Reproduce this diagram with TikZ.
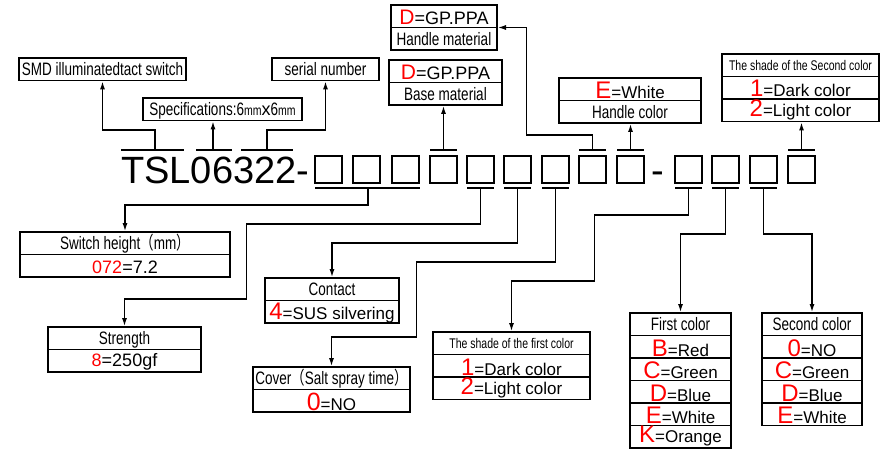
\documentclass[tikz,border=0pt]{standalone}
\usepackage{fontspec}
\setmainfont{Liberation Sans}
\newfontfamily\narrowfont[FakeStretch=0.75]{Liberation Sans}
\newfontfamily\cjkfont[FakeStretch=0.75]{Noto Sans CJK SC}
\usepackage{tikz}
\usetikzlibrary{positioning,arrows.meta}
\usepackage{xcolor}
\definecolor{red}{HTML}{FF0000}
\newcommand{\keyred}[2][24]{{\fontsize{#1}{#1}\selectfont\color{red}#2}}
\newcommand{\mmunit}{{\fontsize{14}{14}\selectfont mm}}

\begin{document}
\begin{tikzpicture}[x=1pt,y=-1pt,
  row/.style={draw, line width=1.9pt, outer sep=0pt, inner xsep=0pt, inner ysep=0pt, minimum height=22.5pt},
  head/.style={row, font=\narrowfont\fontsize{18}{18}\selectfont, text height=13pt, text depth=0pt},
  smallhead/.style={row, font=\narrowfont\fontsize{14}{14}\selectfont, text height=10pt, text depth=0pt},
  val/.style={row, font=\fontsize{17}{17}\selectfont, text height=20.5pt, text depth=2pt},
  raised/.style 2 args={text height=#1, text depth=#2},
  boxw/.style={minimum width=#1},
  sq/.style={draw, line width=1.9pt, minimum size=27pt, inner sep=0pt, outer sep=0pt},
  bar/.style={line width=1.9pt},
  link/.style={line width=1.9pt, -{Latex[length=9pt,width=5pt]}}]
  \useasboundingbox (0,0) rectangle (888,449);
  % part number with its code squares
  \node[anchor=base west, inner sep=0pt, font=\fontsize{38}{38}\selectfont] (pn) at (121,183) {TSL06322-};
  \foreach \x [count=\i] in {315,353,392,430,467,504,542,579,617,675,712,750,788}
    \node[sq] (s\i) at (\x+13.5,169.5) {};
  \node[anchor=base, inner sep=0pt, font=\fontsize{38}{38}\selectfont] (dash) at (658,183) {-};
  % bars over and under the code
  \foreach \a/\b in {121/184,196/232,241/293,430/457,579/606,617/644,788/815}
    \draw[bar] (\a,150) -- (\b,150);
  \foreach \a/\b in {315/420,467/494,504/531,542/569,675/702,712/739,750/777}
    \draw[bar] (\a,188) -- (\b,188);
  \coordinate (tA) at (155,150);
  \coordinate (tB) at (213,150);
  \coordinate (tC) at (267,150);
  \coordinate (t4) at (s4 |- tA);
  \coordinate (t8) at (s8 |- tA);
  \coordinate (t9) at (s9 |- tA);
  \coordinate (t13) at (s13 |- tA);
  \coordinate (u1) at (368,188);
  \coordinate (u5) at (s5 |- u1);
  \coordinate (u6) at (s6 |- u1);
  \coordinate (u7) at (s7 |- u1);
  \coordinate (u10) at (s10 |- u1);
  \coordinate (u11) at (s11 |- u1);
  \coordinate (u12) at (s12 |- u1);

  % TOP: series, size, serial
  \node[head, boxw=167pt, anchor=north west] (smd) at (19,58) {SMD illuminatedtact switch};
  \node[head, boxw=159pt, anchor=north west] (spec) at (143,98) {Specifications:6\mmunit{\rmfamily x}6\mmunit};
  \node[head, boxw=107pt, anchor=north west] (serial) at (272,58) {serial number};
  % TOP: handle and base material
  \node[val, boxw=106pt, anchor=north west, font=\fontsize{18}{18}\selectfont, raised={19.5pt}{3pt}] (hm1) at (391,5) {\keyred[21]{D}=GP.PPA};
  \node[head, boxw=106pt, below=0pt of hm1] (hm2) {Handle material};
  \node[val, boxw=113pt, anchor=north west, font=\fontsize{18}{18}\selectfont, raised={19.5pt}{3pt}] (bm1) at (389,60) {\keyred[21]{D}=GP.PPA};
  \node[head, boxw=113pt, below=0pt of bm1] (bm2) {Base material};
  % TOP: handle colour, shade of second colour
  \node[val, boxw=142pt, anchor=north west, raised={21pt}{1.5pt}] (hc1) at (559,78) {\keyred{E}=White};
  \node[head, boxw=142pt, below=0pt of hc1] (hc2) {Handle color};
  \node[smallhead, boxw=157pt, anchor=north west] (sc1) at (722,54) {The shade of the Second color};
  \node[val, boxw=157pt, below=0pt of sc1] (sc2) {\keyred{1}=Dark color};
  \node[val, boxw=157pt, below=0pt of sc2, raised={17.5pt}{5pt}] (sc3) {\keyred{2}=Light color};

  % BOTTOM: height, strength, contact, cover
  \node[head, boxw=210pt, anchor=north west] (ht1) at (20,232) {Switch height{\cjkfont （}mm{\cjkfont ）}};
  \node[val, boxw=210pt, below=0pt of ht1, font=\fontsize{18}{18}\selectfont, raised={19pt}{3.5pt}] (ht2) {\keyred[18]{072}=7.2};
  \node[head, boxw=153pt, anchor=north west] (st1) at (48,327) {Strength};
  \node[val, boxw=153pt, below=0pt of st1, font=\fontsize{18}{18}\selectfont, raised={17pt}{5.5pt}] (st2) {\keyred[18]{8}=250gf};
  \node[head, boxw=134pt, anchor=north west] (ct1) at (265,278) {Contact};
  \node[val, boxw=134pt, below=0pt of ct1, raised={18.5pt}{4pt}] (ct2) {\keyred{4}=SUS silvering};
  \node[head, boxw=157pt, anchor=north west] (cv1) at (253,367) {Cover{\cjkfont （}Salt spray time{\cjkfont ）}};
  \node[val, boxw=157pt, below=0pt of cv1] (cv2) {\keyred[25]{0}=NO};
  % BOTTOM: shade of first colour
  \node[smallhead, boxw=157pt, anchor=north west] (sf1) at (433,332) {The shade of the first color};
  \node[val, boxw=157pt, below=0pt of sf1] (sf2) {\keyred{1}=Dark color};
  \node[val, boxw=157pt, below=0pt of sf2, raised={17.5pt}{5pt}] (sf3) {\keyred{2}=Light color};
  % BOTTOM: first colour
  \node[head, boxw=101pt, anchor=north west] (fc1) at (630,313) {First color};
  \node[val, boxw=101pt, below=0pt of fc1] (fc2) {\keyred{B}=Red};
  \node[val, boxw=101pt, below=0pt of fc2] (fc3) {\keyred{C}=Green};
  \node[val, boxw=101pt, below=0pt of fc3] (fc4) {\keyred{D}=Blue};
  \node[val, boxw=101pt, below=0pt of fc4] (fc5) {\keyred{E}=White};
  \node[val, boxw=101pt, below=0pt of fc5, raised={17pt}{5.5pt}] (fc6) {\keyred{K}=Orange};
  % BOTTOM: second colour
  \node[head, boxw=100pt, anchor=north west] (sd1) at (762,313) {Second color};
  \node[val, boxw=100pt, below=0pt of sd1] (sd2) {\keyred{0}=NO};
  \node[val, boxw=100pt, below=0pt of sd2] (sd3) {\keyred{C}=Green};
  \node[val, boxw=100pt, below=0pt of sd3] (sd4) {\keyred{D}=Blue};
  \node[val, boxw=100pt, below=0pt of sd4] (sd5) {\keyred{E}=White};

  % connectors up
  \draw[link] (tA) -- ++(0,-20) -| (smd.south);
  \draw[link] (tB) -- (tB |- spec.south);
  \draw[link] (tC) -- ++(0,-20) -| (serial.south);
  \draw[link] (t4) -- (t4 |- bm2.south);
  \draw[link] (t8) -- ++(0,-15) -- ++(-66,0) |- (hm1.south east);
  \draw[link] (t9) -- (t9 |- hc2.south);
  \draw[link] (t13) -- (t13 |- sc3.south);
  % connectors down
  \draw[link] (u1) -- ++(0,17) -| (ht1.north);
  \draw[link] (u5) -- ++(0,36) -- ++(-234,0) -- ++(0,75) -| (st1.north);
  \draw[link] (u6) -- ++(0,55) -| (ct1.north);
  \draw[link] (u7) -- ++(0,74) -- ++(-139,0) -- ++(0,75) -| (cv1.north);
  \draw[link] (u10) -- ++(0,27) -- ++(-94,0) -- ++(0,66) -| (sf1.north);
  \draw[link] (u11) -- ++(0,46) -| (fc1.north);
  \draw[link] (u12) -- ++(0,46) -| (sd1.north);
\end{tikzpicture}
\end{document}
